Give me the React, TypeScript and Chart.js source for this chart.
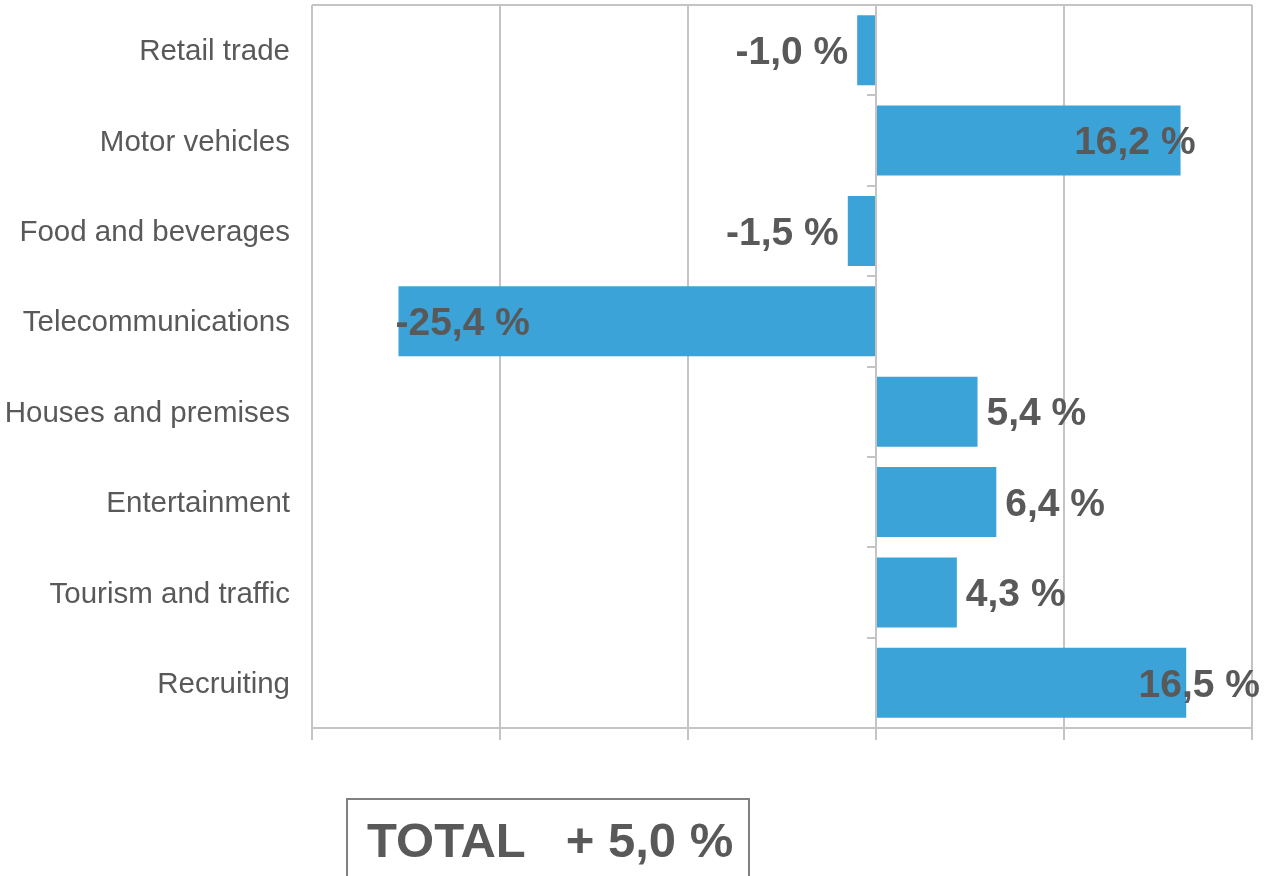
import React, { useEffect, useRef } from 'react';
import { Chart, registerables } from 'chart.js';

Chart.register(...registerables);

// ---- data ----
const categories = [
  'Retail trade',
  'Motor vehicles',
  'Food and beverages',
  'Telecommunications',
  'Houses and premises',
  'Entertainment',
  'Tourism and traffic',
  'Recruiting',
];
const changePct = [-1.0, 16.2, -1.5, -25.4, 5.4, 6.4, 4.3, 16.5];
const xTickValues = [-30, -20, -10, 0, 10, 20];
const totalLabel = 'TOTAL';
const totalValue = '+ 5,0 %';

// ---- style ----
const FONT = "'Liberation Sans', Arial, Helvetica, sans-serif";
const BAR_COLOR = '#3BA3D8';
const TEXT_COLOR = '#595959';
const GRID_COLOR = '#C4C4C4';
// how each value label sits relative to its bar end
const labelPlacement = ['outside', 'overlap', 'outside', 'overlap', 'outside', 'outside', 'outside', 'outside'];

const fmt = (v: number) => v.toFixed(1).replace('.', ',') + ' %';

const decorPlugin = {
  id: 'decor',
  beforeDatasetsDraw(chart: any) {
    const { ctx, chartArea } = chart;
    const xs = chart.scales.x;
    const ys = chart.scales.y;
    ctx.save();
    ctx.strokeStyle = GRID_COLOR;
    ctx.lineWidth = 2;
    // top border of plot area
    ctx.beginPath();
    ctx.moveTo(chartArea.left, chartArea.top);
    ctx.lineTo(chartArea.right, chartArea.top);
    ctx.stroke();
    // tick marks on the zero axis at category boundaries
    const zx = Math.round(xs.getPixelForValue(0));
    const n = categories.length;
    const step = (ys.bottom - ys.top) / n;
    for (let i = 1; i < n; i++) {
      const y = Math.round(ys.top + step * i);
      ctx.beginPath();
      ctx.moveTo(zx - 9, y);
      ctx.lineTo(zx, y);
      ctx.stroke();
    }
    ctx.restore();
  },
  afterDatasetsDraw(chart: any) {
    const { ctx } = chart;
    const meta = chart.getDatasetMeta(0);
    const W = chart.width;
    ctx.save();
    ctx.font = `bold 39px ${FONT}`;
    ctx.fillStyle = TEXT_COLOR;
    ctx.textBaseline = 'middle';
    ctx.textAlign = 'left';
    meta.data.forEach((bar: any, i: number) => {
      const v = changePct[i];
      const text = fmt(v);
      const w = ctx.measureText(text).width;
      const end = bar.x;
      let left: number;
      if (labelPlacement[i] === 'overlap') {
        left = v >= 0 ? end + 15 - w : end - 3;
      } else {
        left = v >= 0 ? end + 9 : end - 9 - w;
      }
      left = Math.max(4, Math.min(W - 4 - w, left));
      ctx.fillText(text, left, bar.y + 3);
    });
    ctx.restore();
  },
};

export default function App() {
  const canvasRef = useRef<HTMLCanvasElement | null>(null);

  useEffect(() => {
    if (!canvasRef.current) return;
    const chart = new Chart(canvasRef.current, {
      type: 'bar',
      data: {
        labels: categories,
        datasets: [
          {
            data: changePct,
            backgroundColor: BAR_COLOR,
            borderWidth: 0,
            barPercentage: 0.775,
            categoryPercentage: 1,
          },
        ],
      },
      options: {
        indexAxis: 'y',
        responsive: false,
        animation: false,
        devicePixelRatio: 1,
        layout: { padding: { top: 5, right: 12, left: 0, bottom: 0 } },
        plugins: {
          legend: { display: false },
          tooltip: { enabled: false },
          title: { display: false },
        },
        scales: {
          x: {
            type: 'linear',
            min: xTickValues[0],
            max: xTickValues[xTickValues.length - 1],
            ticks: { stepSize: 10, display: false },
            grid: { color: GRID_COLOR, lineWidth: 2, tickLength: 12, drawTicks: true },
            border: { display: true, color: GRID_COLOR, width: 2 },
            afterFit: (s: any) => {
              s.height = 148;
            },
          },
          y: {
            type: 'category',
            position: 'left',
            offset: true,
            grid: { display: false, drawTicks: false, tickLength: 0 },
            border: { display: false },
            ticks: {
              color: TEXT_COLOR,
              padding: 22,
              labelOffset: 2,
              font: { family: FONT, size: 29.5 },
            },
            afterFit: (s: any) => {
              s.width = 312;
              s.paddingTop = 0;
              s.paddingBottom = 0;
            },
          },
        },
      },
      plugins: [decorPlugin],
    } as any);
    return () => chart.destroy();
  }, []);

  return (
    <div
      style={{
        position: 'fixed',
        left: 0,
        top: 0,
        width: 1264,
        height: 876,
        overflow: 'hidden',
        background: '#fff',
      }}
    >
      <canvas ref={canvasRef} width={1264} height={876} style={{ display: 'block' }} />
      <div
        style={{
          position: 'absolute',
          left: 346,
          top: 798,
          width: 404,
          height: 120,
          boxSizing: 'border-box',
          border: '2px solid #808080',
          padding: '16px 0 0 19px',
          fontFamily: FONT,
          fontWeight: 'bold',
          fontSize: 49,
          lineHeight: '49px',
          color: TEXT_COLOR,
          whiteSpace: 'pre',
        }}
      >
        {`${totalLabel}   ${totalValue}`}
      </div>
    </div>
  );
}
